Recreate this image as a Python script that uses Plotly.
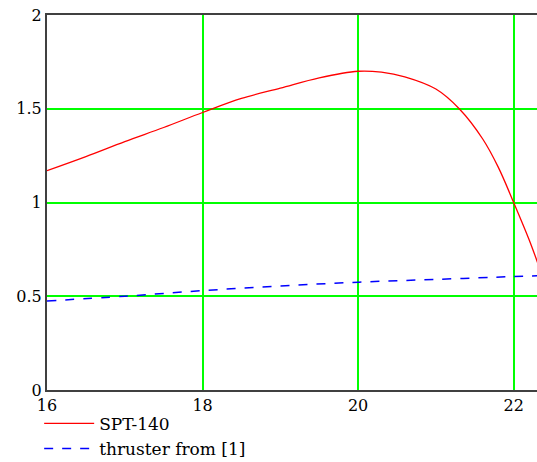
import plotly.graph_objects as go

x_spt = [16.0, 16.5, 17.0, 17.5, 18.0, 18.5, 19.0, 19.5, 20.0, 20.3, 20.6, 21.0, 21.3, 21.6, 21.8, 22.0, 22.2, 22.35]
y_spt = [1.17, 1.245, 1.325, 1.40, 1.48, 1.555, 1.61, 1.665, 1.70, 1.695, 1.67, 1.605, 1.50, 1.34, 1.19, 1.00, 0.80, 0.63]

x_ref = [16.0, 17.0, 18.0, 19.0, 20.0, 21.0, 22.0, 22.35]
y_ref = [0.475, 0.50, 0.53, 0.555, 0.575, 0.59, 0.605, 0.61]

x_ticks = [16, 18, 20, 22]
y_ticks = [0, 0.5, 1, 1.5, 2]

font = "DejaVu Serif"

fig = go.Figure()
fig.add_trace(go.Scatter(x=x_spt, y=y_spt, mode="lines", name="SPT-140",
                         line=dict(color="#ff0000", width=1.3, shape="spline")))
fig.add_trace(go.Scatter(x=x_ref, y=y_ref, mode="lines", name="thruster from [1]",
                         line=dict(color="#0000ff", width=1.5, dash="dash", shape="spline")))

fig.update_layout(
    width=537, height=462,
    margin=dict(l=47, r=0, t=15, b=72, autoexpand=False),
    paper_bgcolor="white", plot_bgcolor="white",
    font=dict(family=font, size=16, color="black"),
    showlegend=True,
    legend=dict(x=-0.016, y=-0.042, xanchor="left", yanchor="top",
                bgcolor="rgba(0,0,0,0)", itemwidth=50,
                font=dict(family=font, size=17), tracegroupgap=0),
    xaxis=dict(range=[16, 22.3], tickvals=x_ticks, ticktext=[str(v) for v in x_ticks],
               showgrid=True, gridcolor="#00ff00", gridwidth=2,
               showline=True, linecolor="#404040", linewidth=2, mirror=True,
               ticks="", zeroline=False, tickfont=dict(family=font, size=16)),
    yaxis=dict(range=[0, 2], tickvals=y_ticks, ticktext=["0", "0.5", "1", "1.5", "2"],
               showgrid=True, gridcolor="#00ff00", gridwidth=2,
               showline=True, linecolor="#404040", linewidth=2,
               ticks="", zeroline=False, tickfont=dict(family=font, size=16)),
)

fig.write_html("out.html")
